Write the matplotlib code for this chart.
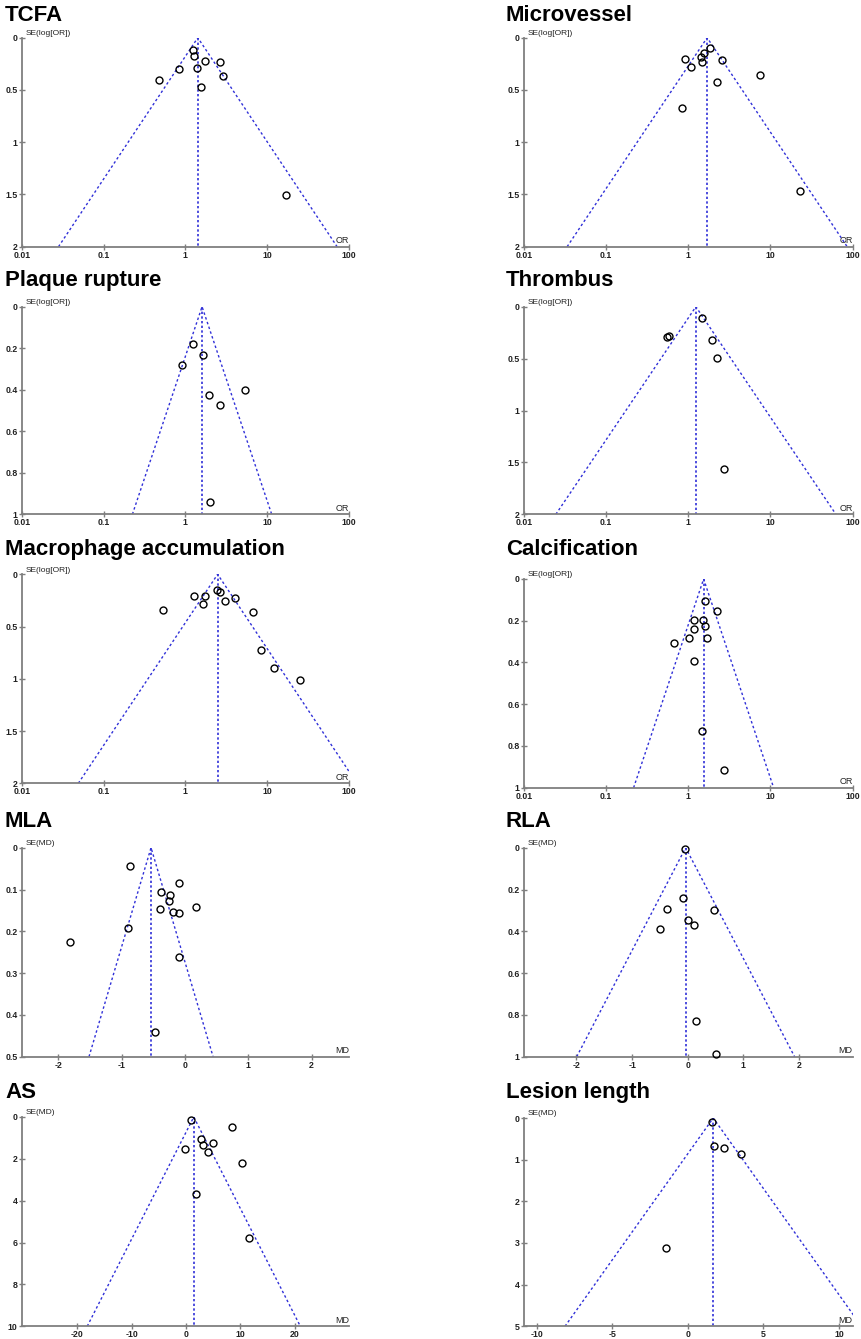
import numpy as np
import matplotlib
matplotlib.use("Agg")
import matplotlib.pyplot as plt

plt.rcParams['font.family'] = ['Liberation Sans', 'DejaVu Sans']

# ---------------- data ----------------
tcfa_or = [1.23, 1.28, 1.75, 2.65, 0.83, 1.39, 2.86, 0.48, 1.57, 17.0]
tcfa_se = [0.118, 0.172, 0.220, 0.233, 0.297, 0.287, 0.364, 0.408, 0.475, 1.506]
tcfa_pooled = 1.42

micro_or = [1.85, 1.54, 1.45, 1.48, 0.91, 2.57, 1.08, 2.21, 7.50, 0.84, 22.8]
micro_se = [0.099, 0.144, 0.188, 0.230, 0.204, 0.214, 0.284, 0.424, 0.360, 0.676, 1.467]
micro_pooled = 1.70

rupture_or = [1.25, 1.63, 0.90, 1.96, 2.63, 5.41, 2.00]
rupture_se = [0.180, 0.231, 0.283, 0.424, 0.472, 0.401, 0.942]
rupture_pooled = 1.60

thrombus_or = [1.47, 0.556, 0.587, 1.94, 2.25, 2.74]
thrombus_se = [0.112, 0.289, 0.279, 0.324, 0.491, 1.563]
thrombus_pooled = 1.24

macro_or = [0.53, 1.28, 1.76, 1.66, 2.44, 2.65, 3.05, 4.00, 6.65, 8.49, 12.2, 25.2]
macro_se = [0.344, 0.207, 0.204, 0.287, 0.153, 0.166, 0.258, 0.226, 0.364, 0.721, 0.893, 1.008]
macro_pooled = 2.48

calc_or = [1.61, 2.21, 1.16, 1.52, 1.58, 1.18, 1.03, 1.70, 0.67, 1.18, 1.47, 2.71]
calc_se = [0.105, 0.155, 0.195, 0.195, 0.224, 0.240, 0.283, 0.283, 0.308, 0.395, 0.728, 0.915]
calc_pooled = 1.54

mla_md = [-0.868, -0.089, -0.384, -0.242, -0.247, -0.40, -0.195, -0.10, 0.168, -0.90, -1.816, -0.10, -0.474]
mla_se = [0.044, 0.084, 0.106, 0.112, 0.128, 0.147, 0.155, 0.156, 0.142, 0.191, 0.225, 0.261, 0.441]
mla_pooled = -0.537

rla_md = [-0.048, -0.078, -0.366, 0.480, 0.012, 0.120, -0.498, 0.150, 0.510]
rla_se = [0.004, 0.239, 0.293, 0.300, 0.348, 0.370, 0.388, 0.831, 0.989]
rla_pooled = -0.036

as_md = [0.98, 8.55, 2.81, 5.01, 3.11, -0.12, 4.09, 10.38, 1.95, 11.66]
as_se = [0.127, 0.494, 1.035, 1.258, 1.320, 1.545, 1.688, 2.197, 3.662, 5.780]
as_pooled = 1.45

lesion_md = [1.61, 1.75, 2.36, 3.54, -1.46]
lesion_se = [0.104, 0.664, 0.720, 0.872, 3.12]
lesion_pooled = 1.68

titles = ["TCFA", "Microvessel", "Plaque rupture", "Thrombus",
          "Macrophage accumulation", "Calcification", "MLA", "RLA",
          "AS", "Lesion length"]

or_ticks = [0.01, 0.1, 1, 10, 100]

panels = [
    dict(x=tcfa_or, se=tcfa_se, pooled=tcfa_pooled, kind="OR", ymax=2, yticks=[0, 0.5, 1, 1.5, 2], xlim=(0.01, 100), xticks=or_ticks),
    dict(x=micro_or, se=micro_se, pooled=micro_pooled, kind="OR", ymax=2, yticks=[0, 0.5, 1, 1.5, 2], xlim=(0.01, 100), xticks=or_ticks),
    dict(x=rupture_or, se=rupture_se, pooled=rupture_pooled, kind="OR", ymax=1, yticks=[0, 0.2, 0.4, 0.6, 0.8, 1], xlim=(0.01, 100), xticks=or_ticks),
    dict(x=thrombus_or, se=thrombus_se, pooled=thrombus_pooled, kind="OR", ymax=2, yticks=[0, 0.5, 1, 1.5, 2], xlim=(0.01, 100), xticks=or_ticks),
    dict(x=macro_or, se=macro_se, pooled=macro_pooled, kind="OR", ymax=2, yticks=[0, 0.5, 1, 1.5, 2], xlim=(0.01, 100), xticks=or_ticks),
    dict(x=calc_or, se=calc_se, pooled=calc_pooled, kind="OR", ymax=1, yticks=[0, 0.2, 0.4, 0.6, 0.8, 1], xlim=(0.01, 100), xticks=or_ticks),
    dict(x=mla_md, se=mla_se, pooled=mla_pooled, kind="MD", ymax=0.5, yticks=[0, 0.1, 0.2, 0.3, 0.4, 0.5], xlim=(-2.58, 2.59), xticks=[-2, -1, 0, 1, 2]),
    dict(x=rla_md, se=rla_se, pooled=rla_pooled, kind="MD", ymax=1, yticks=[0, 0.2, 0.4, 0.6, 0.8, 1], xlim=(-2.95, 2.97), xticks=[-2, -1, 0, 1, 2]),
    dict(x=as_md, se=as_se, pooled=as_pooled, kind="MD", ymax=10, yticks=[0, 2, 4, 6, 8, 10], xlim=(-30.2, 30.0), xticks=[-20, -10, 0, 10, 20]),
    dict(x=lesion_md, se=lesion_se, pooled=lesion_pooled, kind="MD", ymax=5, yticks=[0, 1, 2, 3, 4, 5], xlim=(-10.85, 10.9), xticks=[-10, -5, 0, 5, 10]),
]

# ---------------- layout (pixel boxes: left, right, top, bottom) ----------------
W, H = 862, 1339
boxes = [
    (21.7, 349.0, 37.7, 246.7), (523.7, 852.7, 37.7, 246.7),
    (21.7, 349.0, 306.7, 514.3), (523.7, 852.7, 306.7, 514.3),
    (21.7, 349.0, 574.3, 783.3), (523.7, 852.7, 579.0, 787.7),
    (21.7, 349.0, 847.7, 1056.7), (523.7, 852.7, 847.7, 1056.7),
    (21.7, 349.0, 1117.0, 1326.3), (523.7, 852.7, 1118.0, 1326.3),
]
title_pos = [(5, 20.7), (506, 20.7), (5, 285.7), (506, 285.7), (5, 555), (506, 555),
             (5, 827.3), (506, 827.3), (5, 1097.7), (506, 1097.7)]

BLUE = "#3030d8"
AXC = "#7f7f7f"

fig = plt.figure(figsize=(W / 100, H / 100), dpi=100)

for p, box, title, tpos in zip(panels, boxes, titles, title_pos):
    l, r, t, b = box
    ax = fig.add_axes([l / W, 1 - b / H, (r - l) / W, (b - t) / H])
    ymax = p["ymax"]
    pooled = p["pooled"]
    if p["kind"] == "OR":
        ax.set_xscale("log")
        lo = pooled * np.exp(-1.96 * ymax)
        hi = pooled * np.exp(1.96 * ymax)
        ylab = "SE(log[OR])"
    else:
        lo = pooled - 1.96 * ymax
        hi = pooled + 1.96 * ymax
        ylab = "SE(MD)"
    ax.plot([lo, pooled, hi], [ymax, 0, ymax], color=BLUE, lw=1.0, ls=(0, (1.8, 1.8)))
    ax.plot([pooled, pooled], [0, ymax], color=BLUE, lw=1.2, ls=(0, (1.4, 1.4)))
    ax.plot(p["x"], p["se"], "o", mfc="none", mec="black", ms=5.0, mew=1.0, clip_on=False, zorder=5)

    ax.set_xlim(*p["xlim"])
    ax.set_ylim(ymax, 0)
    ax.minorticks_off()
    ax.set_xticks(p["xticks"])
    ax.set_xticklabels([f"{v:g}" for v in p["xticks"]])
    ax.set_yticks(p["yticks"])
    ax.set_yticklabels([f"{v:g}" for v in p["yticks"]])

    for s in ("top", "right"):
        ax.spines[s].set_visible(False)
    for s in ("left", "bottom"):
        ax.spines[s].set_color(AXC)
        ax.spines[s].set_linewidth(1.3)
    ax.tick_params(direction="inout", length=4, width=1.0, color=AXC,
                   labelsize=6.3, pad=1, labelcolor="#222222")
    for lab in ax.get_xticklabels() + ax.get_yticklabels():
        lab.set_fontweight("bold")
    ax.patch.set_alpha(0)

    ax.annotate(ylab, xy=(0, 1), xycoords="axes fraction", xytext=(2.5, 3),
                textcoords="offset points", ha="left", va="center",
                fontsize=6, color="#222222")
    ax.annotate(p["kind"], xy=(1, 0), xycoords="axes fraction", xytext=(0, 1),
                textcoords="offset points", ha="right", va="bottom",
                fontsize=6.5, color="#222222")

    fig.text(tpos[0] / W, 1 - tpos[1] / H, title, fontsize=16, fontweight="bold",
             ha="left", va="baseline", color="black")

fig.savefig("out.png", dpi=100)
